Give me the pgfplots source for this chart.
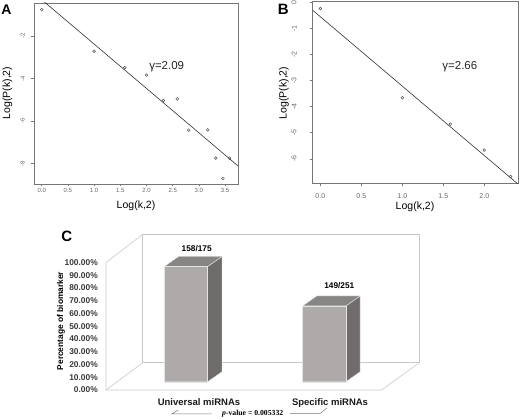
\documentclass[border=0pt]{standalone}
\usepackage{fontspec}
\setmainfont{Liberation Sans}
\newfontfamily\serifface{Liberation Serif}
\usepackage{pgfplots}
\pgfplotsset{compat=1.18}
\definecolor{boxc}{HTML}{767676}
\definecolor{ticc}{HTML}{666666}
\definecolor{ptc}{HTML}{555555}
\definecolor{linec}{HTML}{333333}
\definecolor{frontc}{HTML}{ADAAA9}
\definecolor{sidec}{HTML}{6F6C6B}
\definecolor{topc}{HTML}{888685}
\definecolor{edgec}{HTML}{E4E4E4}
\definecolor{framec}{HTML}{C8C8C8}
\definecolor{cticc}{HTML}{3A3A3A}
\begin{document}
\begin{tikzpicture}
\useasboundingbox (0pt,0pt) rectangle (520pt,-419pt);
% ---------------- Panel A ----------------
\begin{axis}[
  at={(34pt,-184pt)}, anchor=south west, scale only axis,
  width=204pt, height=181pt,
  xmin=-0.147, xmax=3.746, ymin=-8.96, ymax=-0.436,
  axis line style={draw=boxc, line width=0.7pt},
  xtick={0,0.5,1,1.5,2,2.5,3,3.5},
  xticklabels={0.0,0.5,1.0,1.5,2.0,2.5,3.0,3.5},
  ytick={-8,-6,-4,-2}, yticklabels={-8,-6,-4,-2},
  xtick pos=bottom, ytick pos=left, tick align=outside,
  major tick length=2.5pt, tick style={boxc, line width=0.5pt},
  /pgf/number format/assume math mode=true,
  xticklabel style={font=\fontsize{6}{7}\selectfont, text=ticc, inner sep=0pt, yshift=-1.5pt},
  yticklabel style={font=\fontsize{6}{7}\selectfont, text=ticc, inner sep=0pt, xshift=-6.5pt, rotate=90, anchor=south},
]
\addplot[only marks, mark=o, mark size=1.4pt, mark options={draw=ptc, line width=0.5pt}]
  coordinates {(0,-0.75) (1,-2.71) (1.585,-3.48) (2,-3.83) (2.322,-5.03) (2.585,-4.95)
               (2.807,-6.42) (3.17,-6.41) (3.322,-7.74) (3.459,-8.7) (3.585,-7.74)};
\addplot[linec, line width=0.6pt] coordinates {(-0.147,0.027) (3.746,-8.109)};
\node[anchor=west, font=\fontsize{11.5}{12}\selectfont, text=black!85] at (axis cs:1.985,-3.455) {γ=2.09};
\end{axis}
\node[font=\fontsize{14}{14}\selectfont\bfseries] at (6.5pt,-10pt) {A};
\node[font=\fontsize{10.5}{11}\selectfont, rotate=90] at (7.5pt,-93pt) {Log(P(k),2)};
\node[font=\fontsize{10.5}{11}\selectfont] at (136pt,-206pt) {Log(k,2)};
% ---------------- Panel B ----------------
\begin{axis}[
  at={(312.7pt,-183.3pt)}, anchor=south west, scale only axis,
  width=205.6pt, height=181.6pt,
  xmin=-0.093, xmax=2.415, ymin=-6.94, ymax=0.02,
  axis line style={draw=boxc, line width=0.7pt},
  xtick={0,0.5,1,1.5,2},
  xticklabels={0.0,0.5,1.0,1.5,2.0},
  ytick={-6,-5,-4,-3,-2,-1,0}, yticklabels={-6,-5,-4,-3,-2,-1,0},
  xtick pos=bottom, ytick pos=left, tick align=outside,
  major tick length=3pt, tick style={boxc, line width=0.5pt},
  /pgf/number format/assume math mode=true,
  xticklabel style={font=\fontsize{7}{8}\selectfont, text=ticc, inner sep=0pt, yshift=-7pt},
  yticklabel style={font=\fontsize{7}{8}\selectfont, text=ticc, inner sep=0pt, xshift=-13pt, rotate=90, anchor=south},
]
\addplot[only marks, mark=o, mark size=1.4pt, mark options={draw=ptc, line width=0.5pt}]
  coordinates {(0,-0.24) (1,-3.66) (1.585,-4.67) (2,-5.67) (2.322,-6.68)};
\addplot[linec, line width=0.6pt] coordinates {(-0.093,-0.309) (2.415,-6.98)};
\node[anchor=west, font=\fontsize{11.5}{12}\selectfont, text=black!85] at (axis cs:1.446,-2.47) {γ=2.66};
\end{axis}
\node[font=\fontsize{15}{15}\selectfont\bfseries] at (283.3pt,-9.5pt) {B};
\node[font=\fontsize{10.5}{11}\selectfont, rotate=90] at (284pt,-93pt) {Log(P(k),2)};
\node[font=\fontsize{10.5}{11}\selectfont] at (415pt,-207pt) {Log(k,2)};
% ---------------- Panel C ----------------
\begin{axis}[
  at={(106pt,-390pt)}, anchor=south west, scale only axis,
  width=313.3pt, height=155.7pt,
  xmin=-0.579, xmax=1.688, ymin=-6.5, ymax=115.5, clip=false,
  axis line style={draw=none}, major tick length=0pt,
  xtick={0.094,1.042}, xticklabels={Universal miRNAs, Specific miRNAs},
  ytick={-6.5,3.48,13.46,23.44,33.42,43.4,53.38,63.36,73.34,83.32,93.3},
  yticklabels={0.00\%,10.00\%,20.00\%,30.00\%,40.00\%,50.00\%,60.00\%,70.00\%,80.00\%,90.00\%,100.00\%},
  xticklabel style={font=\fontsize{9.5}{10}\selectfont\bfseries, text=black!90, inner sep=0pt, yshift=-8pt},
  yticklabel style={font=\fontsize{8.4}{9}\selectfont\bfseries, text=cticc, inner sep=0pt, xshift=-8pt},
]
% frame
\draw[framec, line width=0.6pt] (axis cs:-0.313,14.9) rectangle (axis cs:1.688,115.5);
\draw[framec, line width=0.6pt] (axis cs:-0.579,93.3) -- (axis cs:-0.579,-6.5) -- (axis cs:1.416,-6.5) -- (axis cs:1.688,14.9);
\draw[framec, line width=0.6pt] (axis cs:-0.579,-6.5) -- (axis cs:-0.313,14.9);
\draw[framec, line width=0.6pt] (axis cs:-0.579,93.3) -- (axis cs:-0.313,115.5);
% bars: side faces
\addplot[fill=sidec, draw=edgec, line width=0.4pt]
  coordinates {(0.1567,0) (0.2602,7.84) (0.2602,98.13) (0.1567,90.29) (0.1567,0)};
\addplot[fill=topc, draw=edgec, line width=0.4pt]
  coordinates {(-0.1567,90.29) (-0.0532,98.13) (0.2602,98.13) (0.1567,90.29) (-0.1567,90.29)};
\addplot[fill=sidec, draw=edgec, line width=0.4pt]
  coordinates {(1.1567,0) (1.2602,7.84) (1.2602,67.2) (1.1567,59.36) (1.1567,0)};
\addplot[fill=topc, draw=edgec, line width=0.4pt]
  coordinates {(0.8433,59.36) (0.9468,67.2) (1.2602,67.2) (1.1567,59.36) (0.8433,59.36)};
% bars: front faces
\addplot[ybar, bar width=0.3134, fill=frontc, draw=edgec, line width=0.4pt]
  coordinates {(0,90.29) (1,59.36)};
\node[font=\fontsize{8.3}{9}\selectfont\bfseries] at (axis cs:0.077,104.5) {158/175};
\node[font=\fontsize{8.3}{9}\selectfont\bfseries] at (axis cs:1.109,75.5) {149/251};
\end{axis}
\node[font=\fontsize{15}{15}\selectfont\bfseries] at (66.7pt,-236.2pt) {C};
\node[font=\fontsize{8.4}{9}\selectfont\bfseries, rotate=90] at (61pt,-321pt) {Percentage of biomarker};
\draw[boxc, line width=0.5pt] (178.3pt,-410pt) -- (171.7pt,-414pt) -- (211.7pt,-414pt);
\draw[boxc, line width=0.5pt] (290pt,-413.5pt) -- (320pt,-413.5pt) -- (326.7pt,-408.3pt);
\node[font=\fontsize{7.7}{8}\selectfont\serifface\bfseries] at (252.7pt,-413.7pt) {\textit{p}-value = 0.005332};
\end{tikzpicture}
\end{document}
